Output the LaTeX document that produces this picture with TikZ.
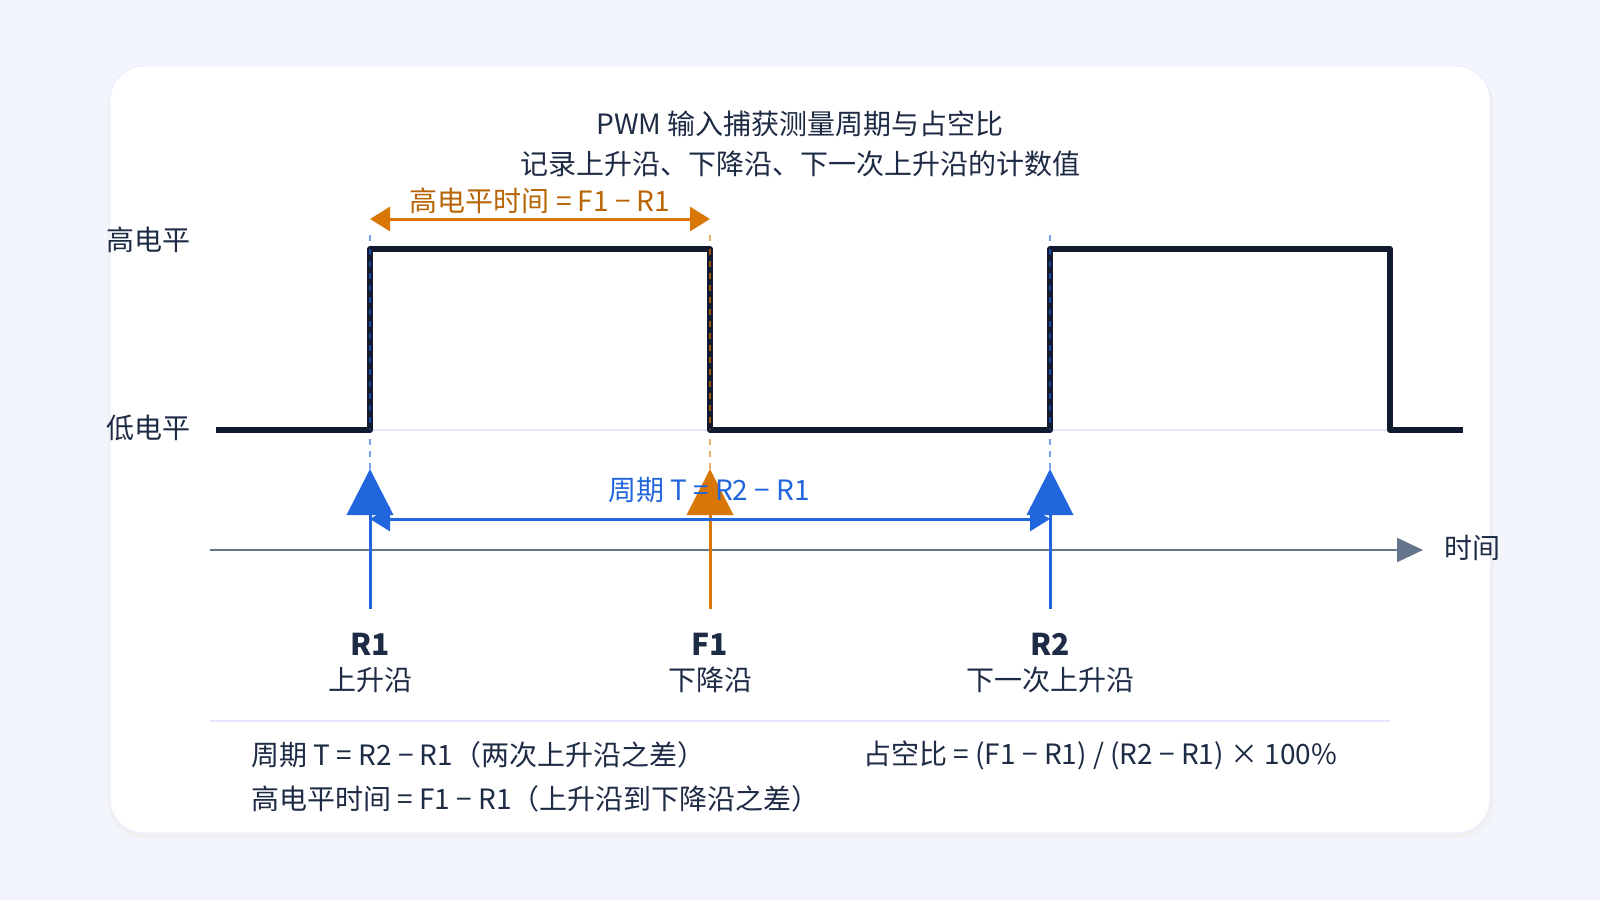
\documentclass[tikz,border=0pt]{standalone}
\usepackage{fontspec}
\setmainfont{Noto Sans CJK SC}
\usetikzlibrary{arrows.meta}
\definecolor{bg}{HTML}{F2F6FC}
\definecolor{bl}{HTML}{2266DD}
\definecolor{orr}{HTML}{D97706}
\definecolor{dk}{HTML}{111A2E}
\definecolor{tx}{HTML}{1E2B45}
\definecolor{ax}{HTML}{64748B}
\begin{document}
\begin{tikzpicture}[x=0.5pt,y=-0.5pt,
  txt/.style={font=\fontsize{14}{16}\selectfont,text=tx,inner sep=0},
  guide/.style={dash pattern=on 3pt off 3pt,line width=0.6pt},
  stem/.style={line width=1.5pt,draw=#1}]
\fill[bg] (0,0) rectangle (1600,900);
\useasboundingbox (0,0) rectangle (1600,900);
\fill[black!6,rounded corners=18pt] (108,70) rectangle (1494,838);
\fill[white,rounded corners=17pt,draw=blue!8] (110,66) rectangle (1490,833);
\node[txt] (t1) at (800,124) {PWM 输入捕获测量周期与占空比};
\node[txt] (t2) at (800,164) {记录上升沿、下降沿、下一次上升沿的计数值};
\node[txt] (hi) at (148,240) {高电平};
\node[txt] (lo) at (148,428) {低电平};
\draw[blue!10,line width=0.8pt] (216,430) -- (1390,430);
\draw[guide,bl!60] (370,235) -- (370,470);
\draw[guide,orr!60] (710,235) -- (710,470);
\draw[guide,bl!60] (1050,235) -- (1050,470);
\draw[dk,line width=3pt,line join=round] (216,430) -- (370,430) -- (370,249) -- (710,249) -- (710,430) -- (1050,430) -- (1050,249) -- (1390,249) -- (1390,430) -- (1463,430);
\draw[guide,bl!70!black] (370,249) -- (370,430);
\draw[guide,orr!70!black] (710,249) -- (710,430);
\draw[guide,bl!70!black] (1050,249) -- (1050,430);
\coordinate (ha) at (370,219); \coordinate (hb) at (710,219);
\draw[orr,line width=1.5pt,{Triangle[length=10pt,width=12pt]}-{Triangle[length=10pt,width=12pt]}] (ha) -- (hb);
\node[txt,text=orr!85!black] (hl) at (540,201) {高电平时间 = F1 − R1};
\coordinate (a0) at (210,550); \coordinate (a1) at (1423,550);
\draw[ax,line width=1.2pt,-{Triangle[length=13pt,width=12pt]}] (a0) -- (a1);
\node[txt] (tl) at (1472,548) {时间};
\draw[stem=bl] (370,515) -- (370,609);
\draw[stem=orr] (710,515) -- (710,609);
\draw[stem=bl] (1050,515) -- (1050,609);
\fill[bl] (370,469) -- (393.5,515) -- (346.5,515) -- cycle;
\fill[orr] (710,469) -- (733.5,515) -- (686.5,515) -- cycle;
\fill[bl] (1050,469) -- (1073.5,515) -- (1026.5,515) -- cycle;
\coordinate (pa) at (370,519); \coordinate (pb) at (1050,519);
\draw[bl,line width=1.5pt,{Triangle[length=10pt,width=12pt]}-{Triangle[length=10pt,width=12pt]}] (pa) -- (pb);
\node[txt,text=bl] (pl) at (709,490) {周期 T = R2 − R1};
\node[txt,font=\fontsize{15}{17}\bfseries] (r1) at (370,644) {R1};
\node[txt] (r1b) at (370,680) {上升沿};
\node[txt,font=\fontsize{15}{17}\bfseries] (f1) at (710,644) {F1};
\node[txt] (f1b) at (710,680) {下降沿};
\node[txt,font=\fontsize{15}{17}\bfseries] (r2) at (1050,644) {R2};
\node[txt] (r2b) at (1050,680) {下一次上升沿};
\draw[blue!10,line width=0.8pt] (210,721) -- (1390,721);
\node[txt,anchor=west] (b1) at (251,755) {周期 T = R2 − R1（两次上升沿之差）};
\node[txt,anchor=west] (b2) at (251,799) {高电平时间 = F1 − R1（上升沿到下降沿之差）};
\node[txt,anchor=west] (b3) at (863,755) {占空比 = (F1 − R1) / (R2 − R1) × 100\%};
\end{tikzpicture}
\end{document}
